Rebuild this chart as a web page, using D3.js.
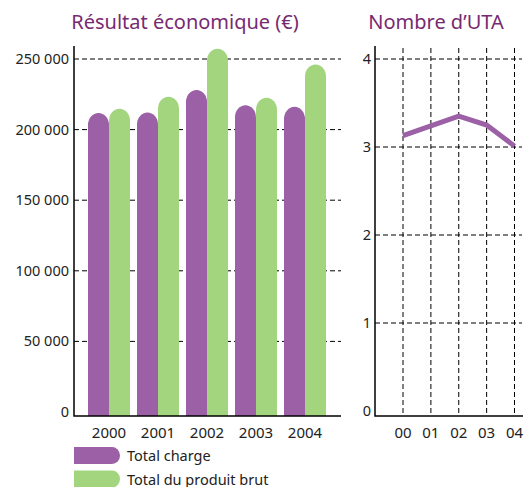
<!DOCTYPE html>
<html>
<head>
<meta charset="utf-8">
<script src="https://cdn.jsdelivr.net/npm/d3@7"></script>
<style>
  body { margin: 0; background: #fff; }
  text { font-family: "Noto Sans", "Open Sans", sans-serif; }
</style>
</head>
<body>
<svg id="chart" width="530" height="487"></svg>
<script>
// data
const years = ["2000", "2001", "2002", "2003", "2004"]
const totalCharge = [211700, 212100, 228000, 217300, 216100]
const totalProduit = [214700, 223200, 257200, 222500, 246100]
const resultTicks = [0, 50000, 100000, 150000, 200000, 250000]

const utaYears = ["00", "01", "02", "03", "04"]
const uta = [3.13, 3.24, 3.35, 3.25, 3.01]
const utaTicks = [0, 1, 2, 3, 4]

const legendLabels = ["Total charge", "Total du produit brut"]

const purple = "#9c60a6"
const green = "#a3d47e"
const titleColor = "#772a71"

const svg = d3.select("#chart")
const fmt = d => d3.format(",")(d).replace(/,/g, " ")

// left chart: Résultat économique
const left = { x0: 74, x1: 341, top: 46, zero: 412, base: 416 }

const y = d3.scaleLinear().domain([0, 250000]).range([left.zero, 59])
const x = d3.scaleBand().domain(years).range([88, 326]).paddingInner(7 / 49).paddingOuter(0)
const xs = d3.scaleBand().domain(["charge", "produit"]).range([0, x.bandwidth()])

svg.append("text")
    .attr("x", 185).attr("y", 29)
    .attr("text-anchor", "middle")
    .style("font-size", "20px")
    .style("fill", titleColor)
    .text("Résultat économique (€)")

const gl = svg.append("g")
gl.selectAll("line.grid")
    .data(resultTicks.filter(d => d > 0))
    .enter().append("line")
    .attr("x1", left.x0).attr("x2", left.x1)
    .attr("y1", d => y(d)).attr("y2", d => y(d))
    .attr("stroke", "#000").attr("stroke-width", 1)
    .attr("stroke-dasharray", "5,3")

gl.selectAll("text.tick")
    .data(resultTicks)
    .enter().append("text")
    .attr("x", 69).attr("y", d => y(d) + 5)
    .attr("text-anchor", "end")
    .style("font-size", "14.5px")
    .style("fill", "#222")
    .text(fmt)

function capBar(x0, w, top, bottom, ry) {
    return "M" + x0 + "," + bottom + "V" + (top + ry) +
        "A" + (w / 2) + "," + ry + " 0 0 1 " + (x0 + w) + "," + (top + ry) +
        "V" + bottom + "Z"
}

const series = [
    { key: "charge", values: totalCharge, color: purple },
    { key: "produit", values: totalProduit, color: green }
]

series.forEach(s => {
    svg.append("g").selectAll("path")
        .data(s.values)
        .enter().append("path")
        .attr("d", (d, i) => capBar(x(years[i]) + xs(s.key), xs.bandwidth(), y(d), left.base, 12))
        .attr("fill", s.color)
})

svg.append("path")
    .attr("d", "M" + left.x0 + "," + left.top + "V" + left.base + "H" + left.x1)
    .attr("fill", "none").attr("stroke", "#000").attr("stroke-width", 1.5)

svg.append("g").selectAll("text")
    .data(years)
    .enter().append("text")
    .attr("x", d => x(d) + x.bandwidth() / 2)
    .attr("y", 438)
    .attr("text-anchor", "middle")
    .style("font-size", "15px")
    .style("fill", "#222")
    .text(d => d)

// legend
const lg = svg.append("g")
legendLabels.forEach((label, i) => {
    const ly = 447 + i * 23.5
    lg.append("path")
        .attr("d", "M74," + ly + "H112A8,8.5 0 0 1 112," + (ly + 17) + "H74Z")
        .attr("fill", i === 0 ? purple : green)
    lg.append("text")
        .attr("x", 127).attr("y", ly + 14)
        .style("font-size", "14.5px")
        .style("fill", "#222")
        .text(label)
})

// right chart: Nombre d'UTA
const right = { x0: 375, x1: 522, top: 46, zero: 411, base: 416 }
const y2 = d3.scaleLinear().domain([0, 4]).range([right.zero, 59])
const x2 = d3.scalePoint().domain(utaYears).range([403, 514.5])

svg.append("text")
    .attr("x", 436).attr("y", 29)
    .attr("text-anchor", "middle")
    .style("font-size", "20px")
    .style("fill", titleColor)
    .text("Nombre d\u2019UTA")

const g2 = svg.append("g")
g2.selectAll("line.h")
    .data(utaTicks.filter(d => d > 0))
    .enter().append("line")
    .attr("x1", right.x0).attr("x2", right.x1)
    .attr("y1", d => y2(d)).attr("y2", d => y2(d))
    .attr("stroke", "#000").attr("stroke-dasharray", "5,3")

g2.selectAll("line.v")
    .data(utaYears)
    .enter().append("line")
    .attr("x1", d => x2(d)).attr("x2", d => x2(d))
    .attr("y1", 48).attr("y2", right.base)
    .attr("stroke", "#000").attr("stroke-dasharray", "5,3")

g2.selectAll("text.t")
    .data(utaTicks)
    .enter().append("text")
    .attr("x", 371).attr("y", d => y2(d) + 5)
    .attr("text-anchor", "end")
    .style("font-size", "14.5px")
    .style("fill", "#222")
    .text(d => d)

g2.append("path")
    .attr("d", "M" + right.x0 + "," + right.top + "V" + right.base + "H" + (right.x1 + 1))
    .attr("fill", "none").attr("stroke", "#000").attr("stroke-width", 1.5)

g2.append("path")
    .datum(uta)
    .attr("d", d3.line().x((d, i) => x2(utaYears[i])).y(d => y2(d)))
    .attr("fill", "none")
    .attr("stroke", purple)
    .attr("stroke-width", 5)

g2.selectAll("text.x")
    .data(utaYears)
    .enter().append("text")
    .attr("x", d => x2(d))
    .attr("y", 438)
    .attr("text-anchor", "middle")
    .style("font-size", "15px")
    .style("fill", "#222")
    .text(d => d)
</script>
</body>
</html>
